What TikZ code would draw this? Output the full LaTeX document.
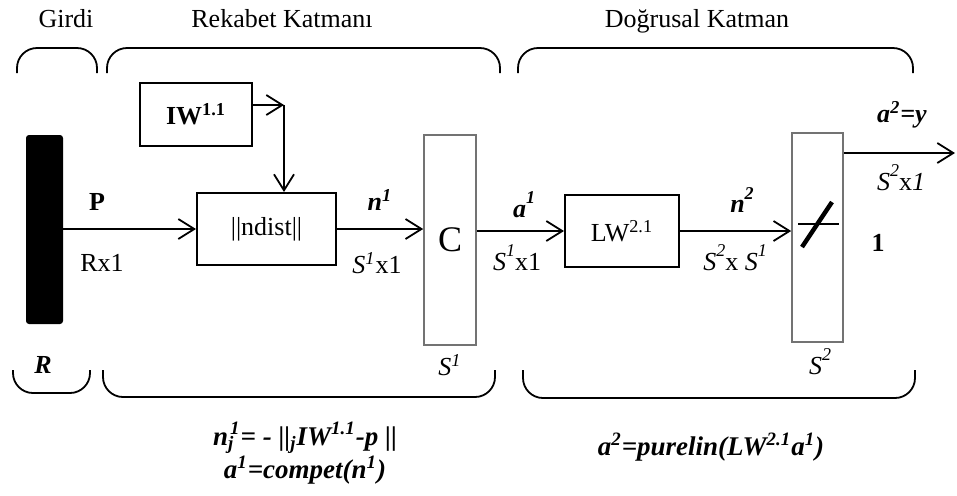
\documentclass[tikz,border=0pt]{standalone}
\usepackage{fontspec}
\setmainfont{Liberation Serif}
\usetikzlibrary{arrows.meta}
\usetikzlibrary{calc}

\newcommand{\hisup}[1]{\raisebox{1.15ex}{\fontsize{9}{10}\selectfont #1}}

\begin{document}
\begin{tikzpicture}[x=0.5pt, y=-0.5pt,
	font=\fontsize{13}{15}\selectfont,
	blk/.style = {draw=black, line width=1pt, inner sep=0pt},
	gbox/.style = {draw=black!55, line width=0.8pt, fill=white, inner sep=0pt, minimum width=26pt, minimum height=105pt},
	arr/.style = {line width=0.9pt, -{Straight Barb[length=8pt, width=10pt]}},
	brak/.style = {line width=0.9pt, rounded corners=10pt},
	lab/.style = {inner sep=1pt},
	eqn/.style = {font=\fontsize{13.5}{16}\selectfont\bfseries\itshape, inner sep=1pt}
]
\useasboundingbox (0,0) rectangle (957,495);

% Layer titles
\node[lab, anchor=base] (tGirdi) at (66,27) {Girdi};
\node[lab, anchor=base] (tRek) at (282,27) {Rekabet Katmanı};
\node[lab, anchor=base] (tDog) at (697,27) {Doğrusal Katman};

% Brackets above and below each layer
\foreach \xa/\xb in {17/97, 107/500, 518/913}
  \draw[brak] (\xa,73) -- (\xa,48) -- (\xb,48) -- (\xb,73);
\foreach \xa/\xb/\yb in {13/90/393, 103/495/397, 523/915/398}
  \draw[brak] (\xa,370) -- (\xa,\yb) -- (\xb,\yb) -- (\xb,370);

% Input vector and blocks
\node[fill=black, rounded corners=1.5pt, minimum width=18.5pt, minimum height=94.5pt, inner sep=0pt] (bar) at (44.5,229.5) {};
\node[blk, minimum width=56pt, minimum height=31.5pt] (iw) at (196,114.5) {\textbf{IW\textsuperscript{1.1}}};
\node[blk, minimum width=69.5pt, minimum height=36pt] (ndist) at (266.5,229) {||ndist||};
\node[gbox] (cbox) at (450,240) {\fontsize{18}{20}\selectfont C};
\node[blk, minimum width=57pt, minimum height=36pt] (lw) at (622,231) {LW\textsuperscript{2.1}};
\node[gbox, minimum width=25.5pt, minimum height=104.5pt] (tf) at (817.5,237.5) {};

% Linear transfer symbol
\draw[line width=0.8pt] (798,224) -- (839,224);
\draw[line width=2.2pt] (802,247) -- (832,202);

% Connectors
\coordinate (bend) at (284,105);
\coordinate (yout) at (955,153);
\draw[arr] (bar.east |- ndist.west) -- (ndist.west);
\draw[arr] (iw.east |- bend) -- (bend);
\draw[arr] (bend) -- (bend |- ndist.north);
\draw[arr] (ndist.east) -- (cbox.west |- ndist.east);
\draw[arr] (cbox.east |- lw.west) -- (lw.west);
\draw[arr] (lw.east) -- (tf.west |- lw.east);
\draw[arr] (tf.east |- yout) -- (yout);

% Signal labels
\node[lab] (lP) at (97,202) {\textbf{P}};
\node[lab] (lRx) at (102,263) {Rx1};
\node[lab] (ln1) at (380,200) {\textbf{\textit{n\textsuperscript{1}}}};
\node[lab] (lS1a) at (377,263) {\textit{S\textsuperscript{1}}x1};
\node[lab] (la1) at (524,205) {\textbf{\textit{a\hisup{1}}}};
\node[lab] (lS1b) at (517,258) {\textit{S\hisup{1}}x1};
\node[lab] (ln2) at (742,200) {\textbf{\textit{n\hisup{2}}}};
\node[lab] (lS2S1) at (735,258) {\textit{S\hisup{2}}x \textit{S\hisup{1}}};
\node[lab] (ly) at (902,115) {\textbf{\textit{a\textsuperscript{2}=y}}};
\node[lab] (lS2x) at (901,178) {\textit{S\hisup{2}}x\textit{1}};
\node[lab] (lone) at (878,243) {\textbf{1}};
\node[lab] (lR) at (43,365) {\textbf{\textit{R}}};
\node[lab] (lS1c) at (450,365) {\textit{S\textsuperscript{1}}};
\node[lab] (lS2c) at (820,362) {\textit{S\hisup{2}}};

% Layer equations
\node[eqn] (eq1) at (305,438) {n\textsubscript{j}\kern-0.15em\textsuperscript{1}= - ||\textsubscript{j}IW\textsuperscript{1.1}-p ||};
\node[eqn] (eq2) at (305,470) {a\textsuperscript{1}=compet(n\textsuperscript{1})};
\node[eqn] (eq3) at (711,447) {a\textsuperscript{2}=purelin(LW\textsuperscript{2.1}a\textsuperscript{1})};

\end{tikzpicture}
\end{document}
